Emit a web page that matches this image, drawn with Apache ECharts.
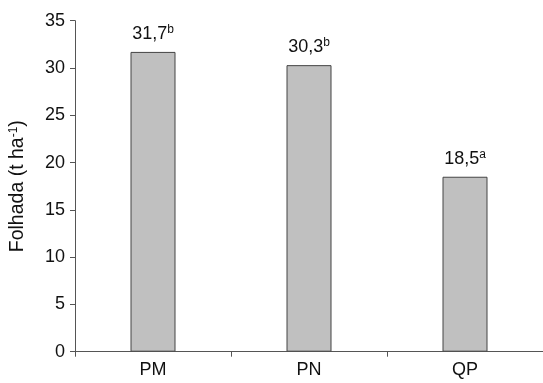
<!DOCTYPE html>
<html><head><meta charset="utf-8">
<script src="https://cdn.jsdelivr.net/npm/echarts@6/dist/echarts.min.js"></script>
<style>html,body{margin:0;padding:0;background:#fff}#c{width:543px;height:383px}</style>
</head><body><div id="c"></div>
<script>
const categories = ['PM', 'PN', 'QP'];
const values = [31.7, 30.3, 18.5];
const letters = ['b', 'b', 'a'];
const yTicks = [0, 5, 10, 15, 20, 25, 30, 35];

const chart = echarts.init(document.getElementById('c'), null, {renderer: 'canvas'});
const font = 'Liberation Sans, Arial, sans-serif';
chart.setOption({
  animation: false,
  grid: {left: 75, right: 0, top: 20.7, bottom: 31.3, containLabel: false},
  xAxis: {
    type: 'category', data: categories,
    axisLine: {lineStyle: {color: '#555', width: 1}},
    axisTick: {show: true, length: 5, lineStyle: {color: '#555'}},
    axisLabel: {color: '#111', fontSize: 18, fontFamily: font, margin: 9}
  },
  yAxis: {
    type: 'value', min: yTicks[0], max: yTicks[yTicks.length - 1], interval: 5,
    splitLine: {show: false},
    axisLine: {show: true, lineStyle: {color: '#555', width: 1}},
    axisTick: {show: true, length: 5, lineStyle: {color: '#555'}},
    axisLabel: {color: '#111', fontSize: 18, fontFamily: font, margin: 10},
    name: '{a|Folhada (t ha}{s|-1}{a|)}',
    nameLocation: 'middle', nameGap: 47, nameRotate: 90,
    nameTextStyle: {
      rich: {
        a: {fontSize: 19.5, color: '#111', fontFamily: font},
        s: {fontSize: 12, color: '#111', fontFamily: font, padding: [0, 0, 8, 0]}
      }
    }
  },
  series: [{
    type: 'bar', barWidth: 45,
    data: values,
    itemStyle: {color: '#c0c0c0', borderColor: '#444', borderWidth: 1},
    label: {
      show: true, position: 'top', distance: 8,
      formatter: p => '{v|' + String(p.value).replace('.', ',') + '}{s|' + letters[p.dataIndex] + '}',
      rich: {
        v: {fontSize: 18, color: '#111', fontFamily: font},
        s: {fontSize: 12, color: '#111', fontFamily: font, padding: [0, 0, 8, 0]}
      }
    }
  }]
});
</script></body></html>
